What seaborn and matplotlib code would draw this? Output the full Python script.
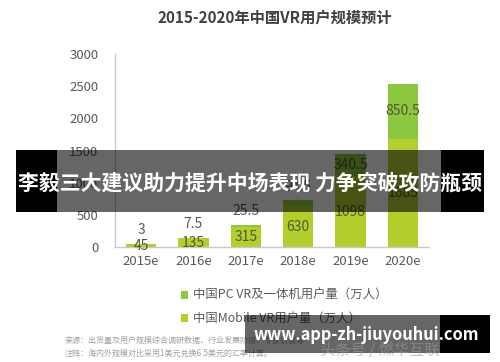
import matplotlib
matplotlib.use("Agg")
import matplotlib.pyplot as plt
from matplotlib.patches import Rectangle
import seaborn as sns
import pandas as pd

years = ["2015e", "2016e", "2017e", "2018e", "2019e", "2020e"]
mobile_vr = [45, 135, 315, 630, 1098, 1685]
pc_vr = [3, 7.5, 25.5, 94.5, 340.5, 850.5]
pc_labels = ["3", "7.5", "25.5", "94.5", "340.5", "850.5"]
mobile_labels = ["45", "135", "315", "630", "1098", "1685"]
yticks = [0, 500, 1000, 1500, 2000, 2500, 3000]

title = "2015-2020年中国VR用户规模预计"
legend_pc = "中国PC VR及一体机用户量（万人）"
legend_mobile = "中国Mobile VR用户量（万人）"
source_1 = "来源：出货量及用户规模综合调研数据、行业发展阶段、专家访谈等"
source_2 = "注释：海内外规模对比采用1美元兑换6.5美元的汇率计算。"
banner = "李毅三大建议助力提升中场表现 力争突破攻防瓶颈"
watermark = "www.app-zh-jiuyouhui.com"
faint = "头条号 / 燃华互联"

sns.set_theme(style="white")
plt.rcParams["font.family"] = ["Noto Sans CJK SC", "DejaVu Sans"]

C_PC = "#8dc63f"
C_MOB = "#b3cf2d"
TXT = "#595959"

W, H = 500, 362
fig = plt.figure(figsize=(5, 3.62), dpi=100)
fig.patch.set_facecolor("white")

def fx(x):
    return x / W

def fy(y):
    return 1 - y / H

ax = fig.add_axes([fx(115), fy(247), fx(429) - fx(115), fy(54) - fy(247)])

df = pd.DataFrame({"year": years, "mobile": mobile_vr, "pc": pc_vr})
sns.barplot(data=df, x="year", y="mobile", color=C_MOB, saturation=1,
            width=0.575, ax=ax, edgecolor="none")
sns.barplot(data=df, x="year", y="pc", color=C_PC, saturation=1,
            width=0.575, ax=ax, bottom=df["mobile"], edgecolor="none")
if ax.get_legend() is not None:
    ax.get_legend().remove()

ax.set_xlim(-0.5, 5.5)
ax.set_ylim(0, 3000)
ax.set_yticks(yticks)
ax.set_xlabel("")
ax.set_ylabel("")
for s in ["top", "right"]:
    ax.spines[s].set_visible(False)
for s in ["left", "bottom"]:
    ax.spines[s].set_color("#c8c8c8")
    ax.spines[s].set_linewidth(1.0)
ax.tick_params(axis="y", length=0, pad=12, labelsize=9.5, labelcolor=TXT)
ax.tick_params(axis="x", length=0, pad=6, labelsize=9.5, labelcolor=TXT)

mob_cont, pc_cont = ax.containers[0], ax.containers[1]
ax.bar_label(mob_cont, labels=mobile_labels, label_type="center",
             fontsize=10, color="#4f5a30")
for rect, val, lab in zip(pc_cont, pc_vr, pc_labels):
    cx = rect.get_x() + rect.get_width() / 2
    top = rect.get_y() + rect.get_height()
    if val > 100:
        ax.annotate(lab, (cx, rect.get_y() + rect.get_height() / 2),
                    ha="center", va="center", fontsize=10, color="#4f5a30")
    else:
        ax.annotate(lab, (cx, top), xytext=(0, 10), textcoords="offset points",
                    ha="center", va="center", fontsize=10, color=TXT)

fig.text(fx(275), fy(18), title, ha="center", va="center", fontsize=11,
         fontweight="bold", color="#404040")

handles = [pc_cont.patches[0], mob_cont.patches[0]]
leg = fig.legend(handles, [legend_pc, legend_mobile], loc="upper left",
                 bbox_to_anchor=(fx(181), fy(289)), frameon=False,
                 fontsize=8.9, handlelength=0.6, handleheight=0.6,
                 handletextpad=0.35, labelspacing=0.85, borderpad=0,
                 borderaxespad=0)
for t in leg.get_texts():
    t.set_color(TXT)

fig.text(fx(65), fy(340), source_1, ha="left", va="center", fontsize=5.8,
         color="#a0a0a0")
fig.text(fx(65), fy(353), source_2, ha="left", va="center", fontsize=5.8,
         color="#a0a0a0")

# banner overlay
fig.patches.append(Rectangle((fx(57), fy(212)), fx(441) - fx(57), fy(150) - fy(212),
                             transform=fig.transFigure, facecolor="black",
                             alpha=0.6, edgecolor="none", zorder=10))
for x0, x1 in [(16, 57), (441, 484)]:
    fig.patches.append(Rectangle((fx(x0), fy(212)), fx(x1) - fx(x0), fy(150) - fy(212),
                                 transform=fig.transFigure, facecolor="black",
                                 edgecolor="none", zorder=10))
fig.text(fx(250), fy(183), banner, ha="center", va="center", fontsize=15,
         fontweight="bold", color="white", zorder=11)

# watermark overlay
fig.patches.append(Rectangle((fx(245), fy(353)), fx(440) - fx(245), fy(315) - fy(353),
                             transform=fig.transFigure, facecolor="black",
                             alpha=0.6, edgecolor="none", zorder=10))
fig.patches.append(Rectangle((fx(440), fy(353)), fx(490) - fx(440), fy(315) - fy(353),
                             transform=fig.transFigure, facecolor="black",
                             edgecolor="none", zorder=10))
fig.text(fx(380), fy(350), faint, ha="center", va="center", fontsize=11,
         color="#9a9a9a", alpha=0.6, zorder=11)
fig.text(fx(366), fy(335), watermark, ha="center", va="center", fontsize=11.8,
         fontweight="bold", color="white", zorder=12)

fig.savefig("out.png", dpi=100, facecolor="white")
